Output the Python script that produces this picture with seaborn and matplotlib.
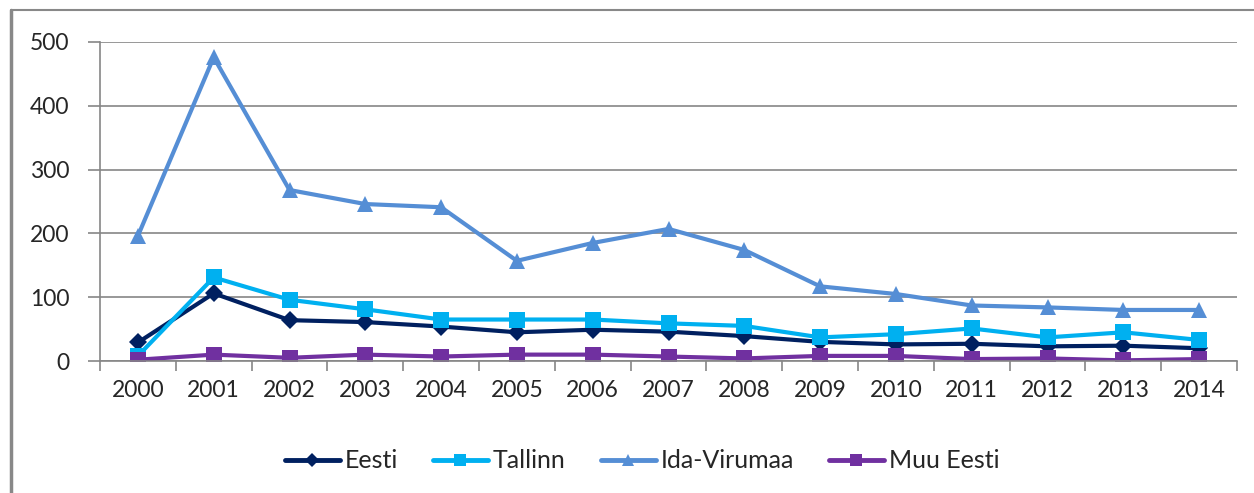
import matplotlib
matplotlib.use("Agg")
import pandas as pd
import seaborn as sns
from matplotlib import pyplot as plt
from matplotlib.lines import Line2D

years = [str(y) for y in range(2000, 2015)]
eesti = [29, 106, 64, 61, 54, 45, 49, 46, 39, 30, 26, 27, 23, 24, 20]
tallinn = [8, 131, 96, 81, 65, 65, 65, 59, 55, 37, 42, 51, 37, 45, 33]
ida_virumaa = [196, 476, 268, 246, 241, 157, 185, 207, 174, 117, 105, 87, 84, 80, 80]
muu_eesti = [2, 10, 5, 10, 7, 10, 10, 7, 4, 8, 8, 3, 4, 1, 3]

series = [
    ("Eesti", eesti, "#002060", "D", 9),
    ("Tallinn", tallinn, "#00B0F0", "s", 11),
    ("Ida-Virumaa", ida_virumaa, "#558ED5", "^", 11),
    ("Muu Eesti", muu_eesti, "#7030A0", "s", 11),
]

sns.set_style("white")
plt.rcParams["font.family"] = ["Lato", "DejaVu Sans"]

fig = plt.figure(figsize=(12.54, 4.93), dpi=100)
ax = fig.add_axes([100 / 1254, 1 - 361 / 493, 1137 / 1254, 319 / 493])

pos = list(range(len(years)))
handles = []
for name, vals, color, marker, ms in series:
    df = pd.DataFrame({"pos": pos, "value": vals})
    sns.lineplot(data=df, x="pos", y="value", ax=ax, color=color, linewidth=3,
                 marker=marker, markersize=ms, markeredgewidth=0, legend=False)
    handles.append(Line2D([0], [0], color=color, linewidth=3.5, marker=marker,
                          markersize=ms * 0.8, markeredgewidth=0, label=name))

ax.set_xlim(-0.5, len(years) - 0.5)
ax.set_ylim(0, 500)
ax.set_yticks(range(0, 501, 100))
ax.set_xticks(pos)
ax.set_xticklabels(years)
ax.set_xticks([p - 0.5 for p in range(len(years) + 1)], minor=True)
ax.set_xlabel("")
ax.set_ylabel("")

ax.grid(axis="y", color="#868686", linewidth=1.2)
ax.set_axisbelow(True)
for side in ["top", "right"]:
    ax.spines[side].set_visible(False)
for side in ["left", "bottom"]:
    ax.spines[side].set_color("#868686")
    ax.spines[side].set_linewidth(1.2)

ax.tick_params(axis="y", which="major", length=9, width=1.2, color="#868686",
               labelsize=16.5, pad=13, left=True)
ax.tick_params(axis="x", which="major", length=0, labelsize=16.5, pad=14)
ax.tick_params(axis="x", which="minor", length=7, width=1.2, color="#868686",
               bottom=True)

fig.legend(handles=handles, loc="center", bbox_to_anchor=(0.512, 1 - 461 / 493),
           ncol=4, frameon=False, fontsize=18, handlelength=2.2,
           handletextpad=0.2, columnspacing=1.4)

# outer chart frame (only left and top edges visible)
fig.add_artist(Line2D([11 / 1254, 11 / 1254], [0, 1 - 10 / 493],
                      color="#888888", linewidth=2.5))
fig.add_artist(Line2D([11 / 1254, 1], [1 - 10 / 493, 1 - 10 / 493],
                      color="#888888", linewidth=1.5))

fig.savefig("out.png", dpi=100)
